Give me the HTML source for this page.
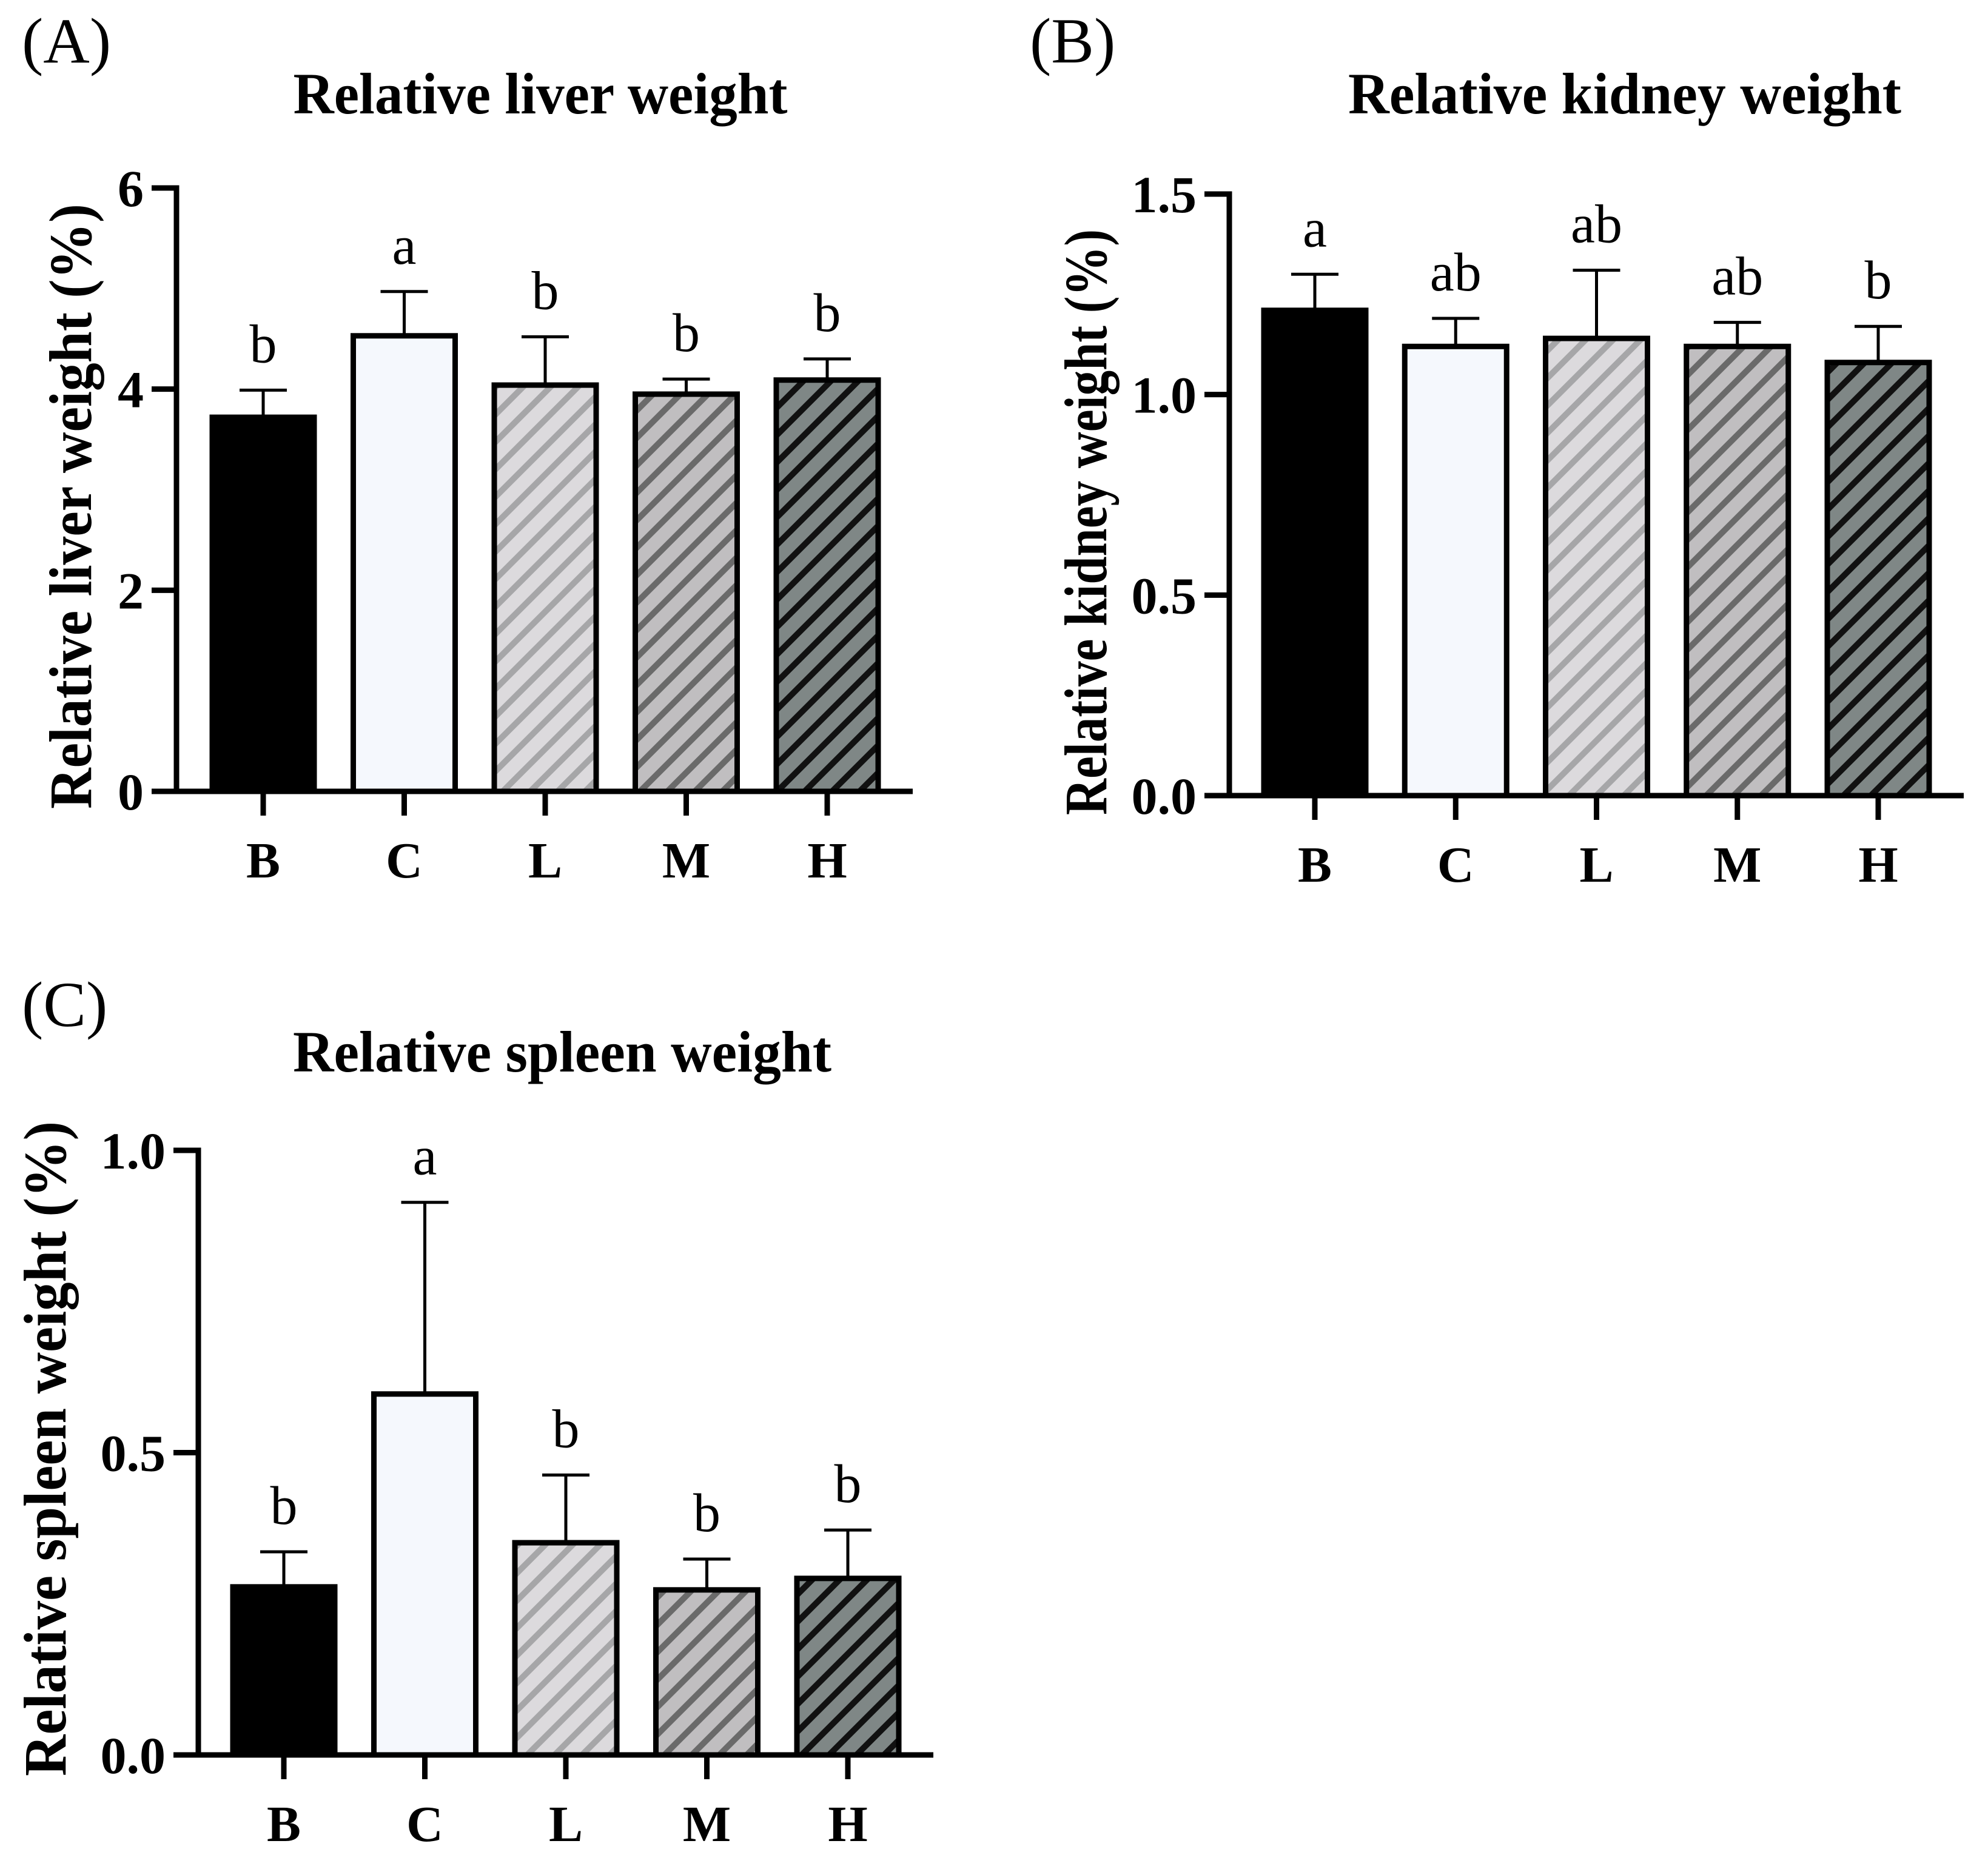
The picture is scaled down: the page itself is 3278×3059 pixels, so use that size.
<!DOCTYPE html>
<html><head><meta charset="utf-8"><style>
html,body{margin:0;padding:0;background:#fff}
svg{display:block}
text{font-family:"Liberation Serif","Times New Roman",serif;fill:#000}
</style></head>
<body>
<svg id="chart" xmlns="http://www.w3.org/2000/svg" width="3278" height="3059" viewBox="0 0 3278 3059">
<defs>
<pattern id="hatchL" patternUnits="userSpaceOnUse" width="32" height="32" patternTransform="rotate(-45)">
<rect width="32" height="32" fill="#dcdadd"/><rect width="32" height="10" fill="#a6a6a8"/></pattern>
<pattern id="hatchM" patternUnits="userSpaceOnUse" width="32" height="32" patternTransform="rotate(-45)">
<rect width="32" height="32" fill="#c0bec0"/><rect width="32" height="10" fill="#6a6a6a"/></pattern>
<pattern id="hatchH" patternUnits="userSpaceOnUse" width="32" height="32" patternTransform="rotate(-45)">
<rect width="32" height="32" fill="#7f8786"/><rect width="32" height="10" fill="#111"/></pattern>
</defs>
<g id="root"></g>
</svg>
<script>
const categories = ["B","C","L","M","H"];
const liverMeans = [3.72, 4.53, 4.04, 3.95, 4.09];
const liverErrors = [0.27, 0.44, 0.48, 0.15, 0.21];
const liverLetters = ["b","a","b","b","b"];
const liverTicks = [0, 2, 4, 6];
const liverTickLabels = ["0","2","4","6"];
const kidneyMeans = [1.21, 1.12, 1.14, 1.12, 1.08];
const kidneyErrors = [0.09, 0.07, 0.17, 0.06, 0.09];
const kidneyLetters = ["a","ab","ab","ab","b"];
const kidneyTicks = [0, 0.5, 1.0, 1.5];
const kidneyTickLabels = ["0.0","0.5","1.0","1.5"];
const spleenMeans = [0.278, 0.597, 0.351, 0.273, 0.292];
const spleenErrors = [0.058, 0.317, 0.112, 0.051, 0.080];
const spleenLetters = ["b","a","b","b","b"];
const spleenTicks = [0, 0.5, 1.0];
const spleenTickLabels = ["0.0","0.5","1.0"];

const NS = "http://www.w3.org/2000/svg";
const root = document.getElementById("root");
const fills = ["#000000","#f5f8fd","url(#hatchL)","url(#hatchM)","url(#hatchH)"];
function mk(tag, attrs, parent){
  const e = document.createElementNS(NS, tag);
  for (const k in attrs) e.setAttribute(k, attrs[k]);
  (parent||root).appendChild(e);
  return e;
}
function panel(cfg){
  const g = mk("g", {});
  
  
  const yScale = v => cfg.y0 - (v - cfg.ymin) / (cfg.ymax - cfg.ymin) * (cfg.y0 - cfg.ytop);
  const xScale = i => cfg.xc0 + i * cfg.step;
  const pl = mk("text", {x: cfg.lblX, y: cfg.lblY, "font-size": 106}, g);
  pl.textContent = cfg.label;
  
  
  const t = mk("text", {x: cfg.titleX, y: cfg.titleY, "font-size": 96, "font-weight": "bold", "text-anchor": "middle", textLength: cfg.titleLen, lengthAdjust: "spacingAndGlyphs"}, g);
  t.textContent = cfg.title;
  
  
  const yt = mk("text", {x: 0, y: 0, "font-size": 100, "font-weight": "bold", "text-anchor": "middle", textLength: cfg.ytLen, lengthAdjust: "spacingAndGlyphs", transform: `translate(${cfg.ytX},${cfg.ytY}) rotate(-90)`}, g);
  yt.textContent = cfg.ytitle;
  
  
  cfg.means.forEach((m, i) => {
    const cx = xScale(i), top = yScale(m), err = yScale(m + cfg.errs[i]);
    const el = mk("line", {x1: cx, x2: cx, y1: top, y2: err, stroke: "#000", "stroke-width": 5}, g);
    
    
    const cap = mk("line", {x1: cx - 39, x2: cx + 39, y1: err, y2: err, stroke: "#000", "stroke-width": 5}, g);
    
    
    const r = mk("rect", {x: cx - 84, y: top, width: 168, height: cfg.y0 - top, fill: fills[i], stroke: "#000", "stroke-width": 9}, g);
    
    
    const lt = mk("text", {x: cx, y: err - 46, "font-size": 90, "text-anchor": "middle"}, g);
    lt.textContent = cfg.letters[i];
    
    
    const tk = mk("line", {x1: cx, x2: cx, y1: cfg.y0, y2: cfg.y0 + 40, stroke: "#000", "stroke-width": 9}, g);
    
    
    const xl = mk("text", {x: cx, y: cfg.y0 + 142, "font-size": 84, "font-weight": "bold", "text-anchor": "middle"}, g);
    xl.textContent = categories[i];
    
    
  });
  const ya = mk("line", {x1: cfg.ax, x2: cfg.ax, y1: yScale(cfg.ymax) - 4.5, y2: cfg.y0 + 4.5, stroke: "#000", "stroke-width": 9}, g);
  
  
  const xa = mk("line", {x1: cfg.ax - 41, x2: xScale(categories.length - 1) + 141, y1: cfg.y0, y2: cfg.y0, stroke: "#000", "stroke-width": 9}, g);
  
  
  cfg.ticks.forEach((v, j) => {
    const y = yScale(v);
    const tl = mk("line", {x1: cfg.ax - 41, x2: cfg.ax, y1: y, y2: y, stroke: "#000", "stroke-width": 9}, g);
    
    
    const tx = mk("text", {x: cfg.ax - 54, y: y + 30, "font-size": 86, "font-weight": "bold", "text-anchor": "end"}, g);
    tx.textContent = cfg.tickLabels[j];
    
    
  });
}
panel({name: "liver-panel", label: "(A)", lblX: 36, lblY: 103, title: "Relative liver weight", titleX: 891, titleY: 187, titleLen: 815,
  ytitle: "Relative liver weight (%)", ytX: 150, ytY: 835, ytLen: 998,
  means: liverMeans, errs: liverErrors, letters: liverLetters, ticks: liverTicks, tickLabels: liverTickLabels,
  ymin: 0, ymax: 6, y0: 1305, ytop: 310, ax: 291, xc0: 434, step: 232.5});
panel({name: "kidney-panel", label: "(B)", lblX: 1698, lblY: 103, title: "Relative kidney weight", titleX: 2679, titleY: 187, titleLen: 912,
  ytitle: "Relative kidney weight (%)", ytX: 1824, ytY: 861, ytLen: 966,
  means: kidneyMeans, errs: kidneyErrors, letters: kidneyLetters, ticks: kidneyTicks, tickLabels: kidneyTickLabels,
  ymin: 0, ymax: 1.5, y0: 1312, ytop: 320, ax: 2027, xc0: 2168, step: 232.25});
panel({name: "spleen-panel", label: "(C)", lblX: 36, lblY: 1692, title: "Relative spleen weight", titleX: 927, titleY: 1767, titleLen: 888,
  ytitle: "Relative spleen weight (%)", ytX: 108, ytY: 2389, ytLen: 1080,
  means: spleenMeans, errs: spleenErrors, letters: spleenLetters, ticks: spleenTicks, tickLabels: spleenTickLabels,
  ymin: 0, ymax: 1.0, y0: 2894, ytop: 1897, ax: 327, xc0: 468, step: 232.5});
</script>
</body></html>
